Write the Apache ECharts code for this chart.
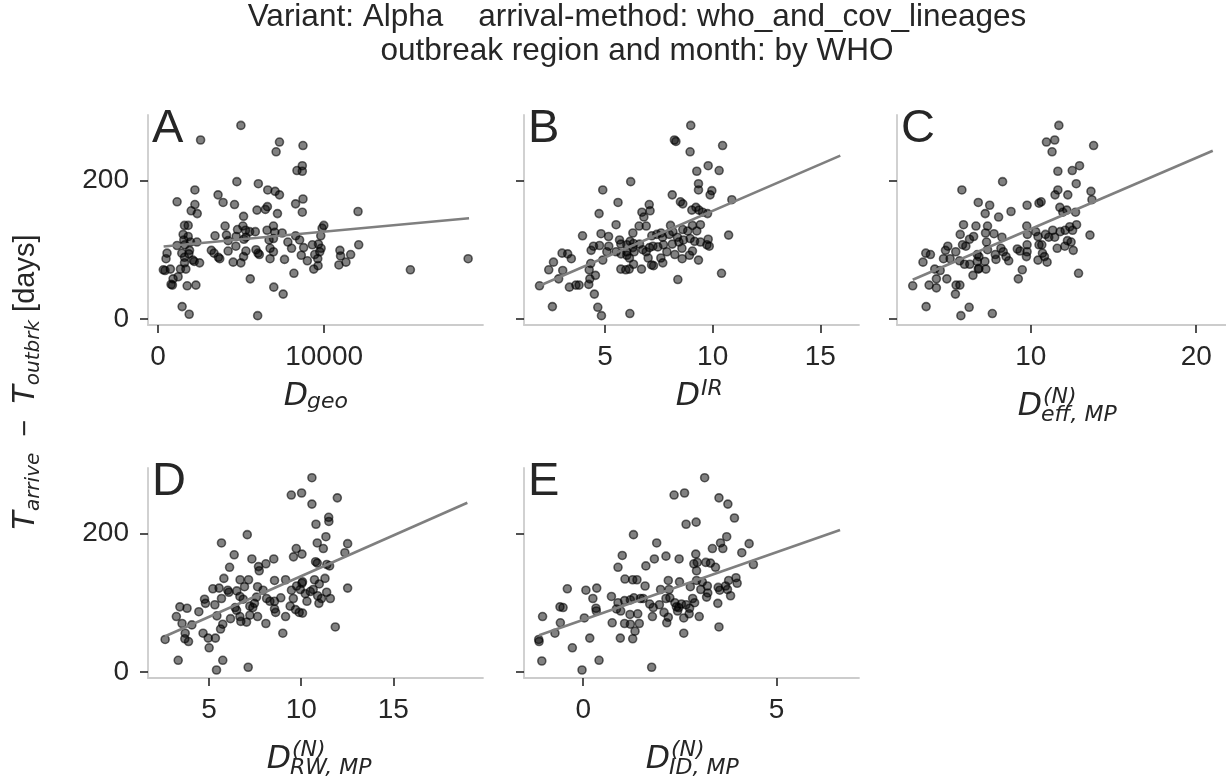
<!DOCTYPE html>
<html>
<head>
<meta charset="utf-8">
<script src="https://cdn.jsdelivr.net/npm/echarts@6/dist/echarts.min.js"></script>
<style>
  html, body { margin: 0; padding: 0; background: #fff; }
  #chart { width: 1226px; height: 780px; }
</style>
</head>
<body>
<div id="chart"></div>
<script>
// values, one list of [x, days] per panel
const ptsA = [[4990,279],[2565,258],[7312,255],[8726,250],[7110,241],[8686,221],[8363,214],[8686,213],[4747,198],[6040,195],[2222,186],[6605,186],[7050,184],[7312,179],[3616,179],[3919,168],[1151,169],[2222,165],[4606,165],[8726,173],[8282,166],[2000,156],[2363,152],[5959,157],[6464,158],[6585,162],[8686,154],[7191,152],[12039,155],[5151,148],[1596,135],[1818,135],[4040,134],[4787,129],[5111,134],[5272,128],[5515,126],[5858,126],[6565,128],[6949,134],[7030,125],[7474,124],[9979,135],[9878,131],[1515,122],[1818,119],[1555,114],[1959,111],[2343,111],[3434,120],[4121,121],[4222,113],[4707,119],[5171,115],[5292,118],[6686,114],[6949,116],[7817,111],[8282,120],[8524,114],[9797,120],[9292,107],[9656,108],[9817,102],[12080,107],[1151,106],[1616,107],[1899,99],[1434,95],[545,95],[485,87],[1596,89],[1858,94],[2101,85],[2505,81],[2182,83],[1596,81],[3212,99],[3373,95],[3636,89],[3717,87],[4222,98],[4686,105],[5151,90],[5292,98],[5898,100],[6020,95],[6100,93],[6747,102],[6949,97],[6747,87],[7615,86],[8040,102],[8625,92],[8767,103],[8989,84],[9433,93],[9736,97],[9615,87],[10948,99],[10989,91],[11595,93],[11312,82],[10888,78],[4525,82],[4989,81],[323,71],[424,70],[747,72],[1353,72],[1677,72],[1212,61],[909,58],[788,50],[869,49],[1757,48],[2283,49],[5555,58],[8181,66],[9373,72],[9635,77],[15190,71],[18665,87],[6969,46],[7535,36],[1454,18],[1879,7],[5999,5]];

const ptsB = [[8.98,279],[8.22,258],[8.29,256],[10.46,250],[8.95,241],[9.79,221],[10.30,214],[9.26,213],[6.19,198],[9.34,195],[9.34,186],[9.96,185],[9.88,179],[4.89,186],[8.12,179],[8.50,169],[8.61,166],[10.89,172],[5.60,168],[7.05,165],[7.09,156],[9.22,161],[9.03,157],[9.36,157],[9.53,154],[9.76,152],[6.71,154],[6.80,147],[4.72,152],[5.51,136],[6.58,134],[6.91,134],[8.04,135],[9.06,135],[9.43,136],[3.95,120],[4.81,123],[5.16,119],[6.29,124],[7.17,120],[7.40,122],[7.60,124],[8.15,126],[8.61,129],[8.84,127],[9.26,127],[10.74,121],[7.67,118],[7.98,122],[8.36,118],[8.64,114],[8.95,116],[9.79,115],[4.46,105],[4.35,99],[4.74,106],[5.17,105],[5.67,114],[5.73,108],[6.01,107],[6.16,112],[6.32,109],[6.60,108],[7.22,105],[7.45,104],[7.71,107],[8.12,108],[8.43,111],[9.16,112],[9.43,111],[9.73,107],[9.84,105],[3.00,95],[3.26,94],[3.43,87],[2.60,82],[2.38,71],[3.03,70],[2.84,58],[3.34,46],[3.64,49],[3.79,49],[4.26,71],[4.33,80],[4.24,50],[4.29,58],[4.55,63],[4.89,85],[5.08,97],[5.51,97],[5.74,94],[6.01,92],[6.13,88],[6.35,97],[6.75,100],[6.91,97],[7.06,103],[6.32,79],[6.12,72],[5.73,72],[5.96,71],[6.69,72],[7.00,88],[7.16,78],[7.25,77],[7.59,88],[7.68,81],[7.87,97],[8.24,93],[8.57,102],[8.58,87],[8.92,92],[9.06,98],[9.34,85],[10.41,66],[8.38,57],[1.95,48],[4.50,36],[2.55,18],[4.66,17],[4.83,5],[6.15,8],[6.29,103],[6.01,97]];

const ptsC = [[11.70,279],[10.95,255],[11.45,258],[11.29,241],[13.80,250],[11.64,213],[12.51,214],[12.95,221],[8.30,198],[12.75,195],[5.84,186],[11.64,186],[11.47,179],[12.24,179],[13.64,184],[13.70,172],[6.83,168],[7.52,164],[9.78,164],[10.50,167],[10.63,169],[11.76,161],[7.25,152],[8.06,147],[8.81,155],[11.94,154],[12.18,157],[12.71,154],[5.94,136],[6.69,134],[7.39,134],[9.76,134],[5.74,122],[6.30,115],[6.55,119],[7.27,124],[7.78,123],[8.26,118],[9.80,122],[10.30,126],[10.44,119],[10.89,122],[11.09,118],[11.33,128],[11.45,118],[11.78,126],[12.08,128],[12.36,133],[12.77,136],[12.53,128],[13.58,121],[12.22,113],[12.44,111],[4.99,105],[4.85,99],[5.47,97],[5.88,107],[6.08,105],[6.77,93],[6.87,90],[7.33,111],[7.39,100],[7.86,93],[8.20,102],[8.34,97],[8.51,90],[8.67,84],[9.19,101],[9.35,98],[9.78,107],[9.78,97],[9.74,90],[10.50,107],[10.71,95],[10.83,90],[10.67,107],[10.99,82],[10.44,85],[11.60,102],[12.06,105],[12.57,99],[12.89,66],[3.66,95],[3.94,93],[3.49,82],[4.73,87],[5.13,87],[5.70,84],[6.00,79],[6.32,79],[4.20,72],[4.53,70],[4.30,58],[3.86,49],[4.30,45],[4.93,58],[5.49,49],[5.72,49],[5.45,36],[2.87,48],[3.68,18],[6.28,17],[5.78,5],[7.68,8],[6.51,63],[6.83,72],[7.29,72],[7.90,86],[9.49,71],[9.25,58],[6.77,83],[7.23,83],[6.87,73]];

const ptsD = [[10.58,280],[9.46,255],[10.02,258],[10.58,242],[11.96,251],[11.49,223],[11.50,217],[10.80,213],[7.07,198],[11.34,195],[5.67,186],[10.87,186],[12.52,185],[11.20,178],[9.73,178],[12.37,172],[6.36,169],[9.58,166],[10.04,170],[7.32,163],[8.08,156],[8.51,163],[7.68,152],[7.72,146],[10.78,159],[10.87,157],[11.39,155],[11.54,153],[6.11,151],[5.80,135],[6.68,133],[7.14,133],[6.92,123],[8.55,132],[9.15,133],[10.07,130],[10.72,133],[11.29,135],[10.98,127],[5.20,120],[5.54,121],[6.01,118],[6.07,115],[5.67,106],[4.75,105],[4.80,99],[5.31,97],[3.41,94],[3.80,92],[4.44,87],[3.22,80],[3.53,70],[4.06,68],[6.50,117],[6.67,109],[6.85,105],[7.63,123],[7.93,118],[8.12,106],[8.30,102],[7.57,108],[7.46,99],[7.21,95],[6.41,93],[6.49,89],[6.67,80],[6.72,73],[7.03,72],[7.21,82],[7.63,80],[6.16,77],[5.42,81],[5.74,69],[5.62,62],[8.08,70],[8.55,91],[8.61,86],[8.89,107],[9.15,80],[9.00,56],[9.47,118],[9.57,106],[9.75,124],[9.95,119],[10.04,128],[10.22,113],[9.40,95],[9.69,90],[9.89,86],[10.07,85],[10.31,102],[10.49,116],[10.65,119],[10.89,110],[10.96,99],[11.10,106],[11.38,115],[11.58,106],[12.52,121],[11.85,65],[2.61,47],[3.70,56],[3.88,44],[3.68,48],[4.67,56],[4.95,49],[5.34,49],[5.00,35],[3.32,17],[5.74,17],[5.40,3],[7.12,7],[8.55,102],[7.37,93]];

const ptsE = [[3.14,280],[2.35,255],[2.62,258],[3.51,251],[3.74,242],[3.91,222],[2.66,213],[2.92,216],[1.30,198],[3.71,195],[3.55,186],[1.90,186],[4.29,185],[3.34,178],[3.61,178],[4.10,172],[1.01,168],[1.84,163],[2.14,167],[2.48,163],[2.91,170],[0.90,151],[1.62,153],[2.86,156],[2.95,158],[3.17,158],[3.29,157],[3.42,151],[2.93,146],[4.40,155],[1.08,134],[1.28,133],[1.39,133],[2.20,132],[2.49,130],[2.93,132],[3.08,130],[3.76,132],[3.95,136],[3.98,128],[1.60,124],[2.00,119],[2.22,119],[2.77,123],[3.04,119],[3.21,124],[3.49,122],[3.53,118],[3.68,124],[3.73,119],[3.81,110],[-0.41,120],[0.07,118],[0.35,121],[0.25,106],[0.73,109],[0.90,100],[1.07,103],[1.22,104],[1.31,107],[1.48,106],[1.55,106],[1.72,98],[1.81,93],[1.97,97],[2.14,106],[2.24,107],[2.37,100],[2.47,93],[2.54,98],[2.66,97],[2.83,106],[2.88,100],[3.19,108],[3.22,114],[3.48,99],[-0.60,94],[-0.52,93],[0.33,92],[0.34,88],[0.86,91],[0.97,88],[1.21,83],[1.41,84],[1.79,80],[2.09,86],[2.20,79],[2.44,88],[2.60,78],[2.75,92],[3.00,80],[-1.05,80],[-0.59,71],[0.03,78],[0.75,71],[1.07,70],[1.22,69],[1.45,70],[2.16,71],[-0.73,56],[0.17,49],[0.96,49],[1.28,48],[1.34,59],[3.51,65],[2.60,56],[-1.14,44],[-1.15,47],[-0.28,35],[-1.07,16],[0.41,17],[-0.03,3],[1.77,7],[2.74,84],[2.41,94]];

// fitted lines, start and end
const fitA = [[340,104.6],[18720,145.3]];
const fitB = [[1.95,48],[15.93,235.5]];
const fitC = [[2.87,56.6],[21.0,242.5]];
const fitD = [[2.61,51.7],[19.02,244]];
const fitE = [[-1.14,53.1],[6.64,204.8]];

const yTicks = [0, 200];
const xTicksA = [0, 10000];
const xTicksB = [5, 10, 15];
const xTicksC = [10, 20];
const xTicksD = [5, 10, 15];
const xTicksE = [0, 5];

const titleLines = ['Variant: Alpha    arrival-method: who_and_cov_lineages', 'outbreak region and month: by WHO'];

const INK = '#262626';
const SANS = '"Liberation Sans", Arial, sans-serif';
const MATH = '"DejaVu Sans", sans-serif';
const W = 335, H = 210;
const Y_MIN = -8.5, Y_MAX = 294;

const panels = [
  { letter: 'A', pts: ptsA, fit: fitA, ticks: xTicksA, min: -600, max: 19560, left: 148, top: 115,
    lab: { jx: 308, base: 408, sub: 'geo', subBase: 410 } },
  { letter: 'B', pts: ptsB, fit: fitB, ticks: xTicksB, min: 1.23, max: 16.8, left: 524, top: 115,
    lab: { jx: 700, base: 408, sup: 'IR', supBase: 397 } },
  { letter: 'C', pts: ptsC, fit: fitC, ticks: xTicksC, min: 1.92, max: 21.8, left: 897, top: 115,
    lab: { jx: 1042, base: 418, sup: '(N)', supBase: 405, sub: 'eff, MP', subBase: 423 } },
  { letter: 'D', pts: ptsD, fit: fitD, ticks: xTicksD, min: 1.68, max: 19.87, left: 148, top: 468,
    lab: { jx: 291, base: 771, sup: '(N)', supBase: 758, sub: 'RW, MP', subBase: 776 } },
  { letter: 'E', pts: ptsE, fit: fitE, ticks: xTicksE, min: -1.53, max: 7.13, left: 524, top: 468,
    lab: { jx: 670, base: 771, sup: '(N)', supBase: 758, sub: 'ID, MP', subBase: 776 } }
];

const grid = [], xAxis = [], yAxis = [], series = [], graphic = [];

// small helper: place a text by its baseline
function mathText(str, x, base, size, align) {
  return {
    type: 'text', x: x, y: base - 0.346 * size, silent: true,
    style: { text: str, align: align, verticalAlign: 'middle', fill: INK,
             font: 'italic ' + size + 'px ' + MATH }
  };
}

panels.forEach((p, i) => {
  grid.push({ left: p.left, top: p.top, width: W, height: H });
  xAxis.push({
    type: 'value', gridIndex: i, min: p.min, max: p.max,
    axisLine: { onZero: false, lineStyle: { color: '#cccccc', width: 1.8 } },
    axisTick: { customValues: p.ticks, length: 8, lineStyle: { color: INK, width: 1.6 } },
    axisLabel: { customValues: p.ticks, margin: 18, color: INK, fontSize: 28, fontFamily: SANS,
                 formatter: v => String(v) },
    splitLine: { show: false }
  });
  yAxis.push({
    type: 'value', gridIndex: i, min: Y_MIN, max: Y_MAX,
    axisLine: { show: true, onZero: false, lineStyle: { color: '#cccccc', width: 1.8 } },
    axisTick: { show: true, customValues: yTicks, length: 8, lineStyle: { color: INK, width: 1.6 } },
    axisLabel: { show: p.left === 148, customValues: yTicks, margin: 19, color: INK, fontSize: 28, fontFamily: SANS,
                 formatter: v => String(v) },
    splitLine: { show: false }
  });
  series.push({
    type: 'scatter', xAxisIndex: i, yAxisIndex: i, data: p.pts, symbolSize: 8,
    itemStyle: { color: 'rgba(0,0,0,0.62)', borderColor: 'rgba(0,0,0,0.72)', borderWidth: 1.6 },
    z: 2
  });
  series.push({
    type: 'line', xAxisIndex: i, yAxisIndex: i, data: p.fit, symbol: 'none',
    lineStyle: { color: '#7f7f7f', width: 2.6 }, z: 3
  });

  // panel letter
  graphic.push({
    type: 'text', x: p.left + 4, y: p.top + 14, silent: true,
    style: { text: p.letter, align: 'left', verticalAlign: 'middle', fill: INK, font: '47px ' + SANS }
  });

  // x axis title  D with super/subscripts
  const L = p.lab;
  graphic.push(mathText('D', L.jx, L.base, 31.5, 'right'));
  if (L.sup) graphic.push(mathText(L.sup, L.jx + 1, L.supBase, 22, 'left'));
  if (L.sub) graphic.push(mathText(L.sub, L.jx - 1, L.subBase, 22, 'left'));
});

// figure title
graphic.push({
  type: 'text', x: 637, y: 0, silent: true,
  style: { text: titleLines.join('\n'), align: 'center', verticalAlign: 'top', lineHeight: 34,
           fill: INK, font: '31.5px ' + SANS }
});

// shared y axis title
graphic.push({
  type: 'text', x: 26, y: 382, rotation: Math.PI / 2, silent: true,
  style: {
    text: '{T|T}{s|arrive}{n|  \u2212  }{T|T}{s|outbrk}{n| [days]}',
    align: 'center', verticalAlign: 'middle', fill: INK,
    rich: {
      T: { fontSize: 30, fontStyle: 'italic', fontFamily: MATH, lineHeight: 36, verticalAlign: 'middle', fill: INK },
      s: { fontSize: 20, fontStyle: 'italic', fontFamily: MATH, lineHeight: 20, verticalAlign: 'bottom', fill: INK },
      n: { fontSize: 29, fontFamily: SANS, lineHeight: 36, verticalAlign: 'middle', fill: INK }
    }
  }
});

const chart = echarts.init(document.getElementById('chart'), null, { renderer: 'canvas' });
chart.setOption({
  animation: false,
  backgroundColor: '#ffffff',
  grid: grid,
  xAxis: xAxis,
  yAxis: yAxis,
  series: series,
  graphic: graphic
});
</script>
</body>
</html>
